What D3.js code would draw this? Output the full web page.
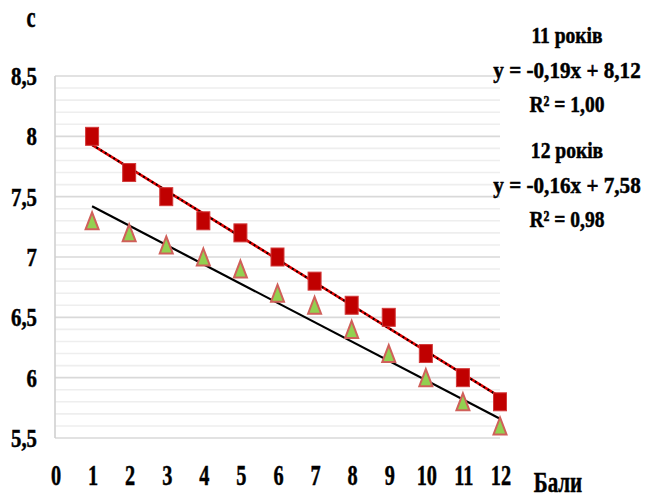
<!DOCTYPE html>
<html>
<head>
<meta charset="utf-8">
<script src="https://cdn.jsdelivr.net/npm/d3@7"></script>
<style>
  html, body { margin: 0; padding: 0; background: #fff; }
  svg { display: block; }
  text { font-family: "Liberation Serif", "Times New Roman", serif; font-weight: bold; fill: #000; stroke: #000; stroke-width: 0.5; }
</style>
</head>
<body>
<svg id="chart" width="646" height="498"></svg>
<script>
// Scores (Бали)
const scores = [1, 2, 3, 4, 5, 6, 7, 8, 9, 10, 11, 12];
// Time in seconds, 11-year-olds
const age11 = [8.0, 7.7, 7.5, 7.3, 7.2, 7.0, 6.8, 6.6, 6.5, 6.2, 6.0, 5.8];
// Time in seconds, 12-year-olds
const age12 = [7.3, 7.2, 7.1, 7.0, 6.9, 6.7, 6.6, 6.4, 6.2, 6.0, 5.8, 5.6];
// Linear trend coefficients as printed: [slope, intercept, R²]
const trend11 = [-0.19, 8.12, 1.00];
const trend12 = [-0.16, 7.58, 0.98];
const seriesNames = ["11 років", "12 років"];
const yTicks = [5.5, 6, 6.5, 7, 7.5, 8, 8.5];
const xTicks = [0, 1, 2, 3, 4, 5, 6, 7, 8, 9, 10, 11, 12];

const svg = d3.select("#chart");
const plotL = 55, plotR = 500, plotT = 76, plotB = 438;
const x = d3.scaleLinear().domain([0, 12]).range([plotL, plotR]);
const y = d3.scaleLinear().domain([5.5, 8.5]).range([plotB, plotT]);
const fmt = v => String(v).replace(".", ",");

// minor grid every 0.1
const minor = d3.range(55, 86).map(v => v / 10).filter(v => Math.abs(v * 2 - Math.round(v * 2)) > 1e-6);
svg.append("g").selectAll("line").data(minor).join("line")
  .attr("x1", plotL).attr("x2", plotR)
  .attr("y1", d => y(d)).attr("y2", d => y(d))
  .attr("stroke", "#eeeeee").attr("stroke-width", 1.6);

// major grid every 0.5
svg.append("g").selectAll("line").data(yTicks).join("line")
  .attr("x1", plotL).attr("x2", plotR)
  .attr("y1", d => y(d)).attr("y2", d => y(d))
  .attr("stroke", "#d9d9d9").attr("stroke-width", 1.6);

// vertical axis line
svg.append("line").attr("x1", plotL).attr("x2", plotL).attr("y1", plotT).attr("y2", plotB)
  .attr("stroke", "#d0d0d0").attr("stroke-width", 1.6);

// y tick labels
svg.append("g").selectAll("text").data(yTicks).join("text")
  .attr("transform", d => `translate(37,${y(d) + 9}) scale(0.8,1)`)
  .attr("text-anchor", "end").attr("font-size", 26)
  .text(d => fmt(d));

// x tick labels
svg.append("g").selectAll("text").data(xTicks).join("text")
  .attr("transform", d => `translate(${x(d) + 1},485) scale(0.7,1)`)
  .attr("text-anchor", "middle").attr("font-size", 29)
  .text(d => d);

// axis titles
svg.append("text").attr("transform", `translate(31,27) scale(0.7,1)`)
  .attr("text-anchor", "middle").attr("font-size", 29).text("с");
svg.append("text").attr("transform", `translate(558,492) scale(0.7,1)`)
  .attr("text-anchor", "middle").attr("font-size", 30).text("Бали");

// trend lines
const x0 = scores[0], x1 = scores[scores.length - 1];
const tl = t => [[x0, t[0] * x0 + t[1]], [x1, t[0] * x1 + t[1]]];
const line = d3.line().x(d => x(d[0])).y(d => y(d[1]));

svg.append("path").attr("d", line(tl(trend12)))
  .attr("stroke", "#000").attr("stroke-width", 2.2).attr("fill", "none");

svg.append("path").attr("d", line(tl(trend11)))
  .attr("stroke", "#e00000").attr("stroke-width", 2.6).attr("fill", "none");
svg.append("path").attr("d", line(tl(trend11)))
  .attr("stroke", "#000").attr("stroke-width", 2).attr("stroke-dasharray", "2,3").attr("fill", "none");

// 11-year markers: squares
const sw = 13, sh = 18;
svg.append("g").selectAll("rect").data(scores).join("rect")
  .attr("x", d => x(d) - sw / 2).attr("y", (d, i) => y(age11[i]) - sh / 2)
  .attr("width", sw).attr("height", sh)
  .attr("fill", "#c00000").attr("stroke", "#d23a3a").attr("stroke-width", 1);

// 12-year markers: triangles
const tw = 13, th = 17;
svg.append("g").selectAll("path").data(scores).join("path")
  .attr("d", (d, i) => {
    const cx = x(d), cy = y(age12[i]);
    return `M${cx},${cy - th / 2}L${cx + tw / 2},${cy + th / 2}L${cx - tw / 2},${cy + th / 2}Z`;
  })
  .attr("fill", "#92d050").attr("stroke", "#d0605a").attr("stroke-width", 2);

// trend equations
const labels = [
  [seriesNames[0], 43, 0.85],
  [`y = ${fmt(trend11[0].toFixed(2))}x + ${fmt(trend11[1].toFixed(2))}`, 78, 0.92],
  [`R² = ${fmt(trend11[2].toFixed(2))}`, 112, 0.85],
  [seriesNames[1], 158, 0.85],
  [`y = ${fmt(trend12[0].toFixed(2))}x + ${fmt(trend12[1].toFixed(2))}`, 193, 0.92],
  [`R² = ${fmt(trend12[2].toFixed(2))}`, 227, 0.85]
];
svg.append("g").selectAll("text").data(labels).join("text")
  .attr("transform", d => `translate(567,${d[1]}) scale(${d[2]},1)`)
  .attr("text-anchor", "middle").attr("font-size", 23)
  .text(d => d[0]);
</script>
</body>
</html>
